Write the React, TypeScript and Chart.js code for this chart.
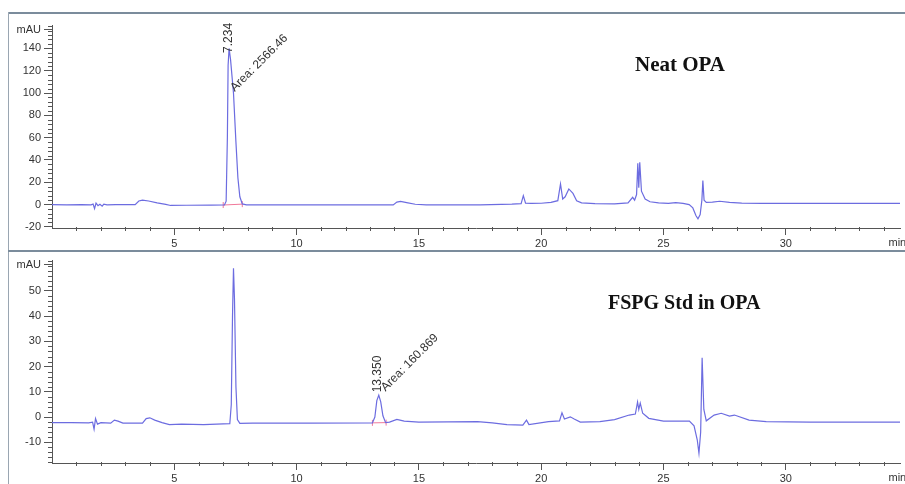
import React, { useEffect, useRef } from "react";
import { Chart, registerables } from "chart.js";

Chart.register(...registerables);

// ---------- data ----------
const topTimes = [0, 0.6, 1.2, 1.6, 1.68, 1.74, 1.8, 1.88, 1.96, 2.05, 2.12, 2.25, 2.6, 3.4, 3.55, 3.7, 3.95, 4.3, 4.65, 4.85, 5.5, 6.5, 7.05, 7.12, 7.17, 7.2, 7.24, 7.3, 7.42, 7.52, 7.6, 7.68, 7.78, 7.95, 10, 13.0, 13.95, 14.1, 14.25, 14.5, 14.85, 15.3, 17.5, 18.8, 19.18, 19.27, 19.36, 19.6, 20.0, 20.4, 20.68, 20.79, 20.88, 20.98, 21.13, 21.3, 21.45, 21.65, 22.2, 23.0, 23.55, 23.74, 23.82, 23.9, 23.95, 23.99, 24.03, 24.1, 24.25, 24.45, 24.8, 25.2, 25.5, 25.8, 26.05, 26.2, 26.33, 26.41, 26.5, 26.57, 26.61, 26.66, 26.75, 27.0, 27.3, 27.7, 28.2, 29, 31, 34.7];
const topSignal = [0, -0.2, 0, -0.3, 0.5, -3.6, 1.4, -1, 0.2, -1.4, 0.4, -0.2, 0, 0, 3.2, 4, 3.2, 1.6, 0.2, -0.8, -0.6, -0.5, -0.4, 3, 60, 125, 140, 130, 100, 56, 24, 7, 0.6, -0.3, -0.3, -0.3, -0.3, 2.2, 2.8, 1.8, 0.3, -0.2, -0.2, 0.4, 0.8, 8, 1.2, 1, 1.2, 2, 3.5, 18.5, 5, 7, 14, 10, 3.5, 1.5, 0.8, 0.6, 1.5, 6.5, 4, 9, 37, 15, 38, 12, 5, 2.5, 1.5, 1, 1.8, 1, 0, -3, -10, -12.8, -9, 4, 21.5, 4, 2, 2.2, 3, 2, 1.3, 1, 1, 1];

const bottomTimes = [0, 0.8, 1.5, 1.66, 1.72, 1.78, 1.86, 2.0, 2.4, 2.55, 2.7, 2.9, 3.7, 3.85, 4.0, 4.2, 4.5, 4.8, 5.3, 6.2, 7.0, 7.27, 7.33, 7.38, 7.42, 7.46, 7.52, 7.58, 7.68, 8.2, 10.5, 13.1, 13.2, 13.28, 13.36, 13.44, 13.53, 13.64, 13.8, 14.1, 14.4, 15.0, 17.4, 18.0, 18.6, 19.25, 19.4, 19.5, 20.3, 20.75, 20.85, 20.95, 21.19, 21.35, 21.6, 22.4, 23.0, 23.6, 23.85, 23.94, 23.99, 24.05, 24.15, 24.4, 25.0, 26.06, 26.25, 26.38, 26.45, 26.52, 26.58, 26.65, 26.75, 27.07, 27.36, 27.7, 27.9, 28.5, 29.2, 31, 34.7];
const bottomSignal = [-2.2, -2.2, -2.3, -2, -4.8, -0.6, -2.8, -2.2, -2.4, -1.2, -1.6, -2.4, -2.4, -0.6, -0.3, -1.2, -2.2, -3, -2.8, -3, -2.7, -2.6, 5, 40, 59, 47, 12, -1, -2.5, -2.4, -2.4, -2.3, 0, 6.5, 8.7, 6, 0.5, -2.2, -2, -0.9, -1.6, -2, -1.8, -2.3, -3, -3.2, -1.2, -3, -1.8, -1.5, 1.7, -0.8, 0.1, -0.8, -2, -1.8, -1, 0.8, 1.2, 6, 3, 5.5, 1.5, -0.5, -1.6, -1.6, -3.5, -9, -14.3, -6, 23.5, 3, -1.5, 0.8, 1.5, 0.4, 0.8, -1.2, -1.8, -2, -2];

// integration baselines (start / end)
const topBaselineTimes = [7.0, 7.78];
const topBaselineValues = [-0.4, 0.4];
const bottomBaselineTimes = [13.1, 13.66];
const bottomBaselineValues = [-2.3, -2.2];

// tick labels
const xTickValues = [5, 10, 15, 20, 25, 30];
const topYTicks = [-20, 0, 20, 40, 60, 80, 100, 120, 140];
const bottomYTicks = [-10, 0, 10, 20, 30, 40, 50];

// peak annotations
const topLabelTexts = ["7.234", "Area: 2566.46"];
const topLabelTimes = [7.234, 7.38];
const topLabelValues = [136, 103];
const topLabelAngles = [-90, -45];
const bottomLabelTexts = ["13.350", "Area: 160.869"];
const bottomLabelTimes = [13.33, 13.54];
const bottomLabelValues = [9.8, 11];
const bottomLabelAngles = [-90, -45];

const topTitle = "Neat OPA";
const bottomTitle = "FSPG Std in OPA";

// ---------- styles ----------
const TRACE = "#6c6ce0";
const BASE = "#f0789a";
const AXIS = "#555555";
const TEXT = "#333333";
const FONT = 'Arial, "Liberation Sans", Helvetica, sans-serif';
const X_MAX = 34.67;

type Panel = {
  times: number[];
  signal: number[];
  bTimes: number[];
  bValues: number[];
  yTicks: number[];
  yMin: number;
  yMax: number;
  yMinorStep: number;
  yMinorStart: number;
  mauValue: number;
  labelTexts: string[];
  labelTimes: number[];
  labelValues: number[];
  labelAngles: number[];
  padTop: number;
  xAxisHeight: number;
  height: number;
};

function makeConfig(p: Panel): any {
  const decor = {
    id: "decor",
    afterDraw(chart: any) {
      const ctx = chart.ctx;
      const xs = chart.scales.x;
      const ys = chart.scales.y;
      const left = chart.chartArea.left;
      const bottom = chart.chartArea.bottom;
      ctx.save();
      ctx.strokeStyle = AXIS;
      ctx.lineWidth = 1;
      // minor x ticks each minute
      for (let t = 1; t <= Math.floor(X_MAX); t++) {
        if (t % 5 === 0) continue;
        const px = Math.round(xs.getPixelForValue(t)) + 0.5;
        ctx.beginPath();
        ctx.moveTo(px, bottom - 1);
        ctx.lineTo(px, bottom + 3);
        ctx.stroke();
      }
      // minor y ticks
      const n = Math.floor((p.yMax - p.yMinorStart) / p.yMinorStep);
      for (let k = 0; k <= n; k++) {
        const v = p.yMinorStart + k * p.yMinorStep;
        if (p.yTicks.indexOf(v) >= 0) continue;
        const py = Math.round(ys.getPixelForValue(v)) + 0.5;
        ctx.beginPath();
        ctx.moveTo(left - 4, py);
        ctx.lineTo(left, py);
        ctx.stroke();
      }
      // mAU tick + label
      const my = Math.round(ys.getPixelForValue(p.mauValue)) + 0.5;
      ctx.beginPath();
      ctx.moveTo(left - 8, my);
      ctx.lineTo(left, my);
      ctx.stroke();
      ctx.fillStyle = TEXT;
      ctx.font = "11px " + FONT;
      ctx.textAlign = "right";
      ctx.textBaseline = "middle";
      ctx.fillText("mAU", left - 11, my);
      // min label
      ctx.textAlign = "left";
      ctx.textBaseline = "top";
      ctx.fillText("min", xs.getPixelForValue(34.2), bottom + 9);
      // peak annotations
      ctx.font = "12px " + FONT;
      ctx.textAlign = "left";
      ctx.textBaseline = "middle";
      for (let i = 0; i < p.labelTexts.length; i++) {
        const px = xs.getPixelForValue(p.labelTimes[i]);
        const py = ys.getPixelForValue(p.labelValues[i]);
        ctx.save();
        ctx.translate(px, py);
        ctx.rotate((p.labelAngles[i] * Math.PI) / 180);
        ctx.fillText(p.labelTexts[i], 0, 0);
        ctx.restore();
      }
      ctx.restore();
    },
  };

  return {
    type: "line",
    data: {
      datasets: [
        {
          data: p.times.map((t, i) => ({ x: t, y: p.signal[i] })),
          borderColor: TRACE,
          borderWidth: 1.2,
          pointRadius: 0,
          tension: 0,
          fill: false,
        },
        {
          data: p.bTimes.map((t, i) => ({ x: t, y: p.bValues[i] })),
          borderColor: BASE,
          borderWidth: 1,
          pointRadius: 3,
          pointStyle: "line",
          rotation: 90,
          pointBorderColor: BASE,
          tension: 0,
          fill: false,
        },
      ],
    },
    options: {
      animation: false,
      responsive: false,
      devicePixelRatio: 1,
      events: [],
      layout: { padding: { top: p.padTop, left: 0, right: 0, bottom: 0 } },
      plugins: { legend: { display: false }, tooltip: { enabled: false }, title: { display: false } },
      scales: {
        x: {
          type: "linear",
          min: 0,
          max: X_MAX,
          afterBuildTicks: (s: any) => {
            s.ticks = xTickValues.map((v) => ({ value: v }));
          },
          afterFit: (s: any) => {
            s.height = p.xAxisHeight;
          },
          grid: { display: true, drawOnChartArea: false, drawTicks: true, tickLength: 7, color: AXIS, lineWidth: 1 },
          border: { display: true, color: AXIS, width: 1 },
          ticks: {
            color: TEXT,
            font: { size: 11, family: FONT },
            padding: 2,
            maxRotation: 0,
            autoSkip: false,
            callback: (v: any) => String(v),
          },
        },
        y: {
          type: "linear",
          min: p.yMin,
          max: p.yMax,
          afterBuildTicks: (s: any) => {
            s.ticks = p.yTicks.map((v) => ({ value: v }));
          },
          afterFit: (s: any) => {
            s.width = 52;
          },
          grid: { display: true, drawOnChartArea: false, drawTicks: true, tickLength: 8, color: AXIS, lineWidth: 1 },
          border: { display: true, color: AXIS, width: 1 },
          ticks: {
            color: TEXT,
            font: { size: 11, family: FONT },
            padding: 3,
            autoSkip: false,
            callback: (v: any) => String(v),
          },
        },
      },
    },
    plugins: [decor],
  };
}

function ChromPanel({ panel, top }: { panel: Panel; top: number }) {
  const ref = useRef<HTMLCanvasElement>(null);
  useEffect(() => {
    const chart = new Chart(ref.current as HTMLCanvasElement, makeConfig(panel));
    return () => chart.destroy();
  }, []);
  return (
    <canvas
      ref={ref}
      width={905}
      height={panel.height}
      style={{ position: "absolute", left: 0, top, width: 905, height: panel.height }}
    />
  );
}

const topPanel: Panel = {
  times: topTimes,
  signal: topSignal,
  bTimes: topBaselineTimes,
  bValues: topBaselineValues,
  yTicks: topYTicks,
  yMin: -21,
  yMax: 161,
  yMinorStep: 4,
  yMinorStart: -20,
  mauValue: 157,
  labelTexts: topLabelTexts,
  labelTimes: topLabelTimes,
  labelValues: topLabelValues,
  labelAngles: topLabelAngles,
  padTop: 13,
  xAxisHeight: 23,
  height: 239,
};

const bottomPanel: Panel = {
  times: bottomTimes,
  signal: bottomSignal,
  bTimes: bottomBaselineTimes,
  bValues: bottomBaselineValues,
  yTicks: bottomYTicks,
  yMin: -18.2,
  yMax: 62,
  yMinorStep: 2,
  yMinorStart: -18,
  mauValue: 60.5,
  labelTexts: bottomLabelTexts,
  labelTimes: bottomLabelTimes,
  labelValues: bottomLabelValues,
  labelAngles: bottomLabelAngles,
  padTop: 9,
  xAxisHeight: 21,
  height: 233,
};

const titleStyle: React.CSSProperties = {
  position: "absolute",
  fontFamily: '"Times New Roman", "Liberation Serif", serif',
  fontWeight: "bold",
  fontSize: 21,
  lineHeight: "21px",
  color: "#111",
  whiteSpace: "nowrap",
};

export default function App() {
  return (
    <div
      style={{
        position: "fixed",
        left: 0,
        top: 0,
        width: 905,
        height: 484,
        background: "#ffffff",
        overflow: "hidden",
      }}
    >
      <div style={{ position: "absolute", left: 8, top: 12, width: 897, height: 2, background: "#7b8c9c" }} />
      <div style={{ position: "absolute", left: 8, top: 12, width: 1, height: 472, background: "#9aa6b2" }} />
      <div style={{ position: "absolute", left: 8, top: 250, width: 897, height: 2, background: "#7b8c9c" }} />
      <ChromPanel panel={topPanel} top={12} />
      <ChromPanel panel={bottomPanel} top={251} />
      <div style={{ ...titleStyle, left: 635, top: 54 }}>{topTitle}</div>
      <div style={{ ...titleStyle, left: 608, top: 292, fontSize: 20 }}>{bottomTitle}</div>
    </div>
  );
}
